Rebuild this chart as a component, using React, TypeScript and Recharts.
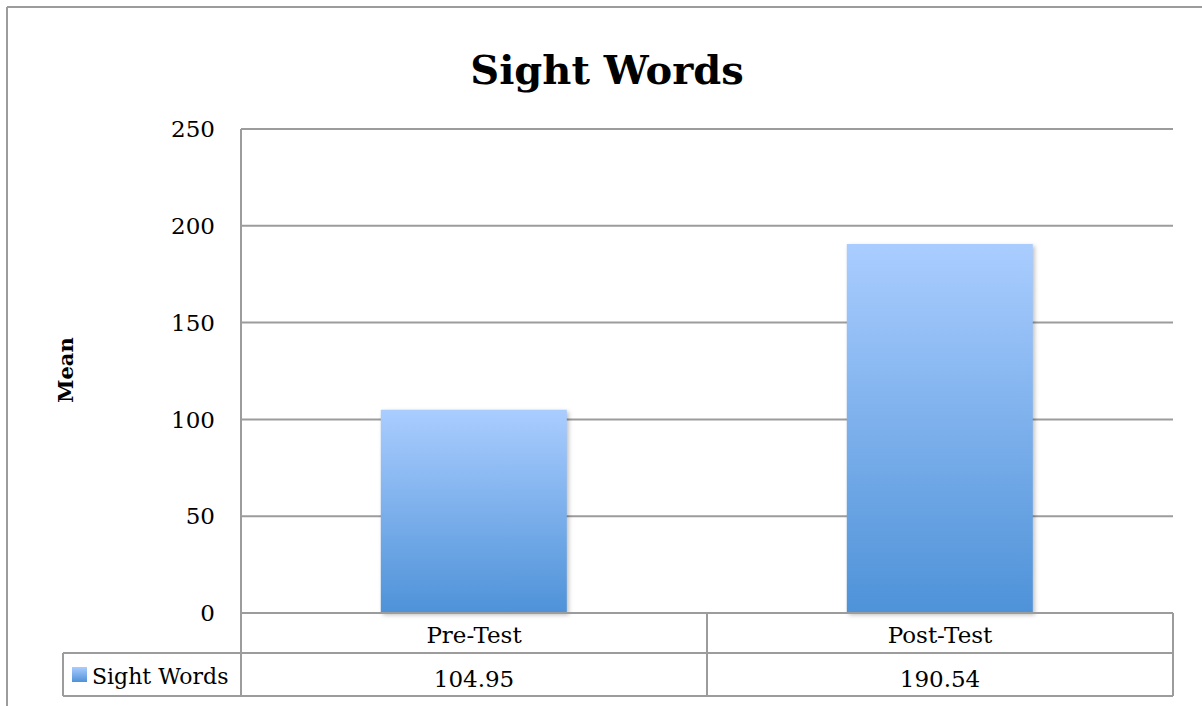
import React from 'react';
import { BarChart, Bar, XAxis, YAxis, CartesianGrid } from 'recharts';

const categories = ['Pre-Test', 'Post-Test'];
const sightWords = [104.95, 190.54];
const yTicks = [0, 50, 100, 150, 200, 250];
const seriesName = 'Sight Words';
const chartTitle = 'Sight Words';
const yAxisTitle = 'Mean';

const data = categories.map((c, i) => ({ name: c, value: sightWords[i] }));

const GRID = '#9c9c9c';
const SW = 2;
const FONT = '"DejaVu Serif", serif';
const FS = 23;

const TableTick = (props: any) => {
  const { x, y, payload, index, width } = props;
  const bw = (width ?? 932) / categories.length;
  const left = x - bw / 2;
  const right = x + bw / 2;
  const h1 = 40;
  const h2 = 83;
  const val = sightWords[categories.indexOf(payload.value)];
  const ls = { stroke: GRID, strokeWidth: SW };
  return (
    <g>
      <line x1={right} y1={y} x2={right} y2={y + h2} {...ls} />
      <line x1={left} y1={y + h1} x2={right} y2={y + h1} {...ls} />
      <line x1={left} y1={y + h2} x2={right} y2={y + h2} {...ls} />
      <text x={x} y={y + 30} textAnchor="middle" fontFamily={FONT} fontSize={FS} fill="#000">
        {payload.value}
      </text>
      <text x={x} y={y + 74} textAnchor="middle" fontFamily={FONT} fontSize={FS} fill="#000">
        {val.toFixed(2)}
      </text>
      {index === 0 && (
        <g>
          <line x1={left} y1={y} x2={left} y2={y + h2} {...ls} />
          <line x1={left - 178} y1={y + h1} x2={left} y2={y + h1} {...ls} />
          <line x1={left - 178} y1={y + h2} x2={left} y2={y + h2} {...ls} />
          <line x1={left - 178} y1={y + h1} x2={left - 178} y2={y + h2} {...ls} />
          <rect x={left - 169} y={y + 54} width={15} height={15} fill="url(#barGrad)" />
          <text x={left - 149} y={y + 71} textAnchor="start" fontFamily={FONT} fontSize={22} fill="#000">
            {seriesName}
          </text>
        </g>
      )}
    </g>
  );
};

export default function App() {
  return (
    <div style={{ position: 'absolute', left: 0, top: 0, width: 1202, height: 706, background: '#fff' }}>
      <BarChart
        width={1202}
        height={706}
        data={data}
        margin={{ top: 129, right: 29, bottom: 10, left: 181 }}
        barCategoryGap="30%"
      >
        <defs>
          <linearGradient id="barGrad" x1="0" y1="0" x2="0" y2="1">
            <stop offset="0%" stopColor="#aacdff" />
            <stop offset="100%" stopColor="#4e92d8" />
          </linearGradient>
        </defs>
        <CartesianGrid vertical={false} stroke={GRID} strokeWidth={SW} />
        <YAxis
          width={60}
          domain={[0, 250]}
          ticks={yTicks}
          interval={0}
          tickLine={false}
          tickSize={0}
          tickMargin={26}
          axisLine={{ stroke: GRID, strokeWidth: SW }}
          tick={{ fontFamily: FONT, fontSize: FS, fill: '#000' }}
        />
        <XAxis
          dataKey="name"
          height={83}
          tickLine={false}
          tickSize={0}
          tickMargin={0}
          interval={0}
          axisLine={{ stroke: GRID, strokeWidth: SW }}
          tick={<TableTick />}
        />
        <Bar
          dataKey="value"
          name={seriesName}
          fill="url(#barGrad)"
          isAnimationActive={false}
          style={{ filter: 'drop-shadow(2px 2px 2px rgba(0,0,0,0.25))' }}
        />
      </BarChart>
      <svg width={1202} height={706} style={{ position: 'absolute', left: 0, top: 0, pointerEvents: 'none' }}>
        <line x1={7} y1={7} x2={1202} y2={7} stroke={GRID} strokeWidth={SW} />
        <line x1={7} y1={7} x2={7} y2={706} stroke={GRID} strokeWidth={SW} />
        <text x={607} y={84} textAnchor="middle" fontFamily={FONT} fontWeight="bold" fontSize={40} fill="#000">
          {chartTitle}
        </text>
        <text
          x={73}
          y={370}
          textAnchor="middle"
          fontFamily={FONT}
          fontWeight="bold"
          fontSize={21}
          fill="#000"
          transform="rotate(-90 73 370)"
        >
          {yAxisTitle}
        </text>
      </svg>
    </div>
  );
}
